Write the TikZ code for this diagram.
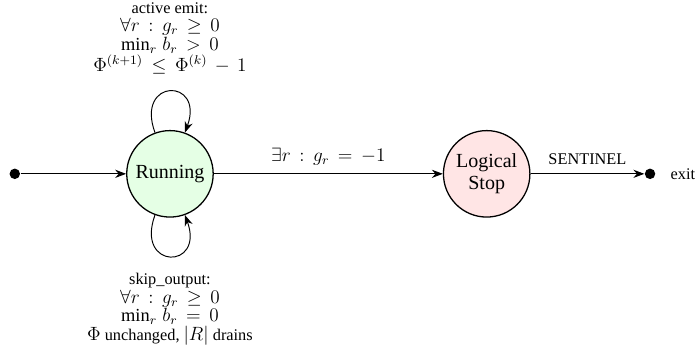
\documentclass[tikz,border=0pt]{standalone}
\usepackage{amsmath,amssymb}
\usepackage{fontspec}
\setmainfont{Liberation Serif}
\usepackage{xcolor}
\usetikzlibrary{arrows.meta,positioning}

% larger, wider math, as in the guards
\newcommand{\mth}[1]{{\fontsize{11.5}{11.6}\selectfont
  \thickmuskip=8mu\medmuskip=7mu\thinmuskip=5mu$#1$}}

\begin{document}
\begin{tikzpicture}[
      font=\fontsize{10.2}{11.6}\selectfont,
      state/.style={draw, circle, thick, minimum size=19mm, inner sep=1pt,
                    align=center, font=\fontsize{12.5}{14}\selectfont},
      run/.style={state, fill=green!10},
      halt/.style={state, fill=red!10},
      dot/.style={circle, fill=black, inner sep=0pt, minimum size=2.3mm},
      guard/.style={align=center, inner sep=0.5pt},
      semithick,
      >={Stealth[length=2.4mm, width=1.8mm]}]

    \useasboundingbox (-37.35mm,-38mm) rectangle (115.6mm,38.2mm);

    \node[dot] (init) at (-34.1mm,0mm) {};
    \node[run] (running) at (0mm,0mm) {Running};
    \node[halt] (stop) at (69.6mm,0mm) {Logical\\Stop};
    \node[dot] (done) at (105.5mm,0mm) {};
    \node[right=3mm of done, inner sep=0.5pt] (exitlabel) {exit};

    \draw[->] (init) -- (running);
    \draw[->] (running) -- node[above=1.5mm, inner sep=1pt]
      {\mth{\exists r : g_r = -1}} (stop);
    \draw[->] (stop) -- node[above=1.5mm, inner sep=1pt] {SENTINEL} (done);

    % self loops
    \draw[->] (running) to[out=110, in=70, looseness=5] (running);
    \draw[->] (running) to[out=250, in=290, looseness=5] (running);

    \node[guard, anchor=north] (emit) at (0mm,37.9mm)
      {active emit:\\ \mth{\forall r : g_r \geq 0}\\ \mth{\min_r b_r > 0}\\
       \mth{\Phi^{(k+1)} \leq \Phi^{(k)} - 1}};
    \node[guard, anchor=north] (skip) at (0mm,-21.6mm)
      {skip\_output:\\ \mth{\forall r : g_r \geq 0}\\ \mth{\min_r b_r = 0}\\
       \mth{\Phi} unchanged, \mth{|R|} drains};
  \end{tikzpicture}
\end{document}
